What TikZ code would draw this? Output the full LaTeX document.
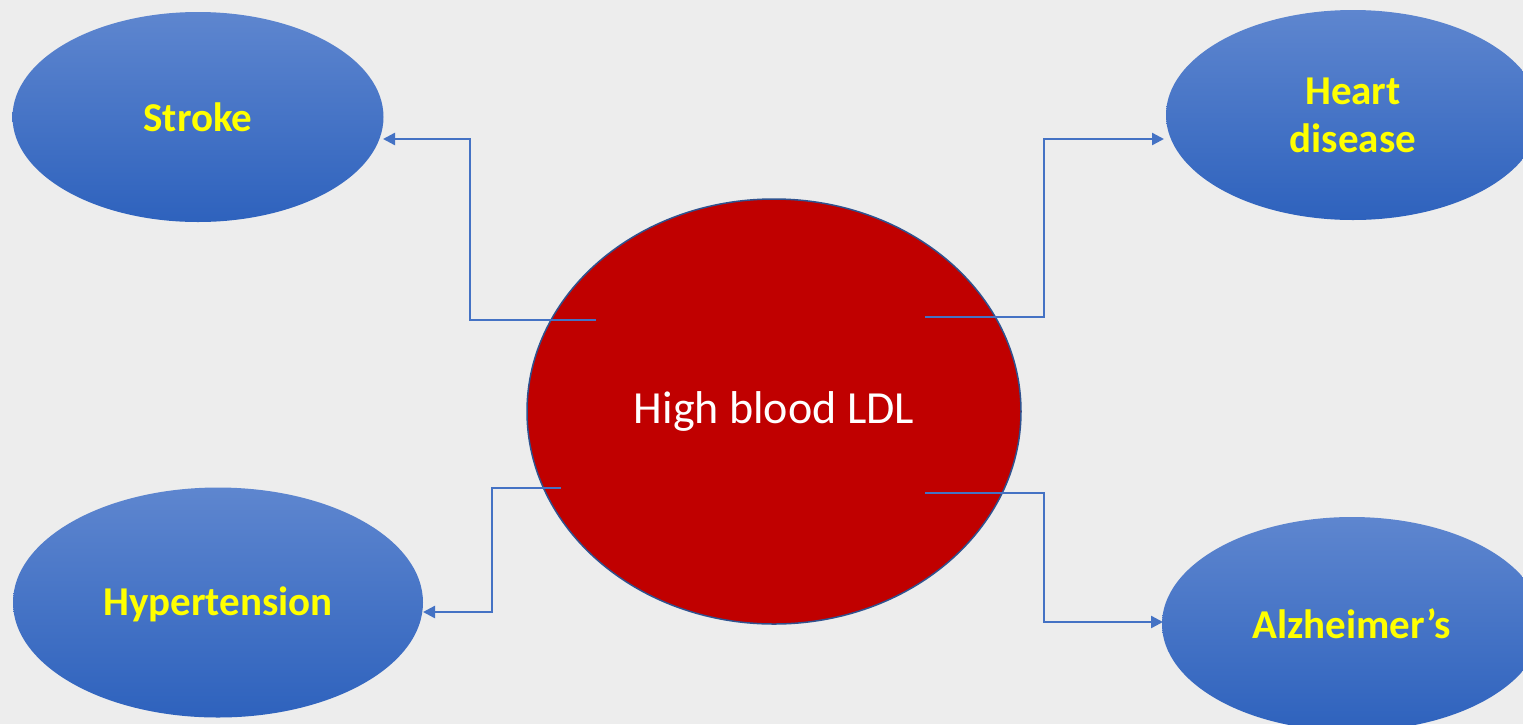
\documentclass[tikz,border=0pt]{standalone}
\usepackage{fontspec}
\setmainfont{Carlito}
\usepackage{tikz}
\usetikzlibrary{arrows.meta,calc,shapes.geometric,positioning}
\definecolor{slidebg}{HTML}{EDEDED}
\definecolor{riskTop}{HTML}{5E86CF}
\definecolor{riskBot}{HTML}{2E62BD}
\definecolor{ldlRed}{HTML}{C00000}
\definecolor{ldlEdge}{HTML}{2F528F}
\definecolor{linkBlue}{HTML}{4472C4}
\definecolor{labelYellow}{HTML}{FFFF00}
\tikzset{
	risk map/.style={
		x=1pt, y=-1pt,
		every node/.style={inner sep=0pt, outer sep=0pt, align=center},
		link/.style={draw=linkBlue, line width=2.4pt,
			-{Triangle[length=12pt,width=12pt]}}
		},
	risk/.style={ellipse, draw=none, top color=riskTop, bottom color=riskBot,
		text=labelYellow, font=\fontsize{41}{48}\selectfont\bfseries},
	risk size/.code 2 args={\pgfkeysalso{minimum width=#1pt, minimum height=#2pt}},
	source/.style={ellipse, fill=ldlRed, draw=ldlEdge, line width=1.5pt,
		text=white, font=\fontsize{46}{52}\selectfont}
}

\begin{document}
\begin{tikzpicture}[risk map]
	\path[use as bounding box, fill=slidebg] (0,0) rectangle (1523,724);
	\clip (0,0) rectangle (1523,724);
	% cause in the middle
	\node[source, risk size={494}{425}] (ldl) at (774,411.5) {High blood LDL};
	% consequences
	\node[risk, risk size={371}{210}] (stroke) at (198,117) {Stroke};
	\node[risk, risk size={374}{210}] (heart) at (1353,115) {Heart\\disease};
	\node[risk, risk size={410}{230}, text depth=2pt] (hyper) at (218,602.5) {Hypertension};
	\node[risk, risk size={380}{214}] (alz) at (1352,624) {Alzheimer’s};
	% wire ends inside the red ellipse and on the targets
	\coordinate (ldl_out1) at (596,320);
	\coordinate (ldl_out2) at (925,317);
	\coordinate (ldl_out3) at (561,488);
	\coordinate (ldl_out4) at (925,493);
	\coordinate (stroke_in) at (383,139);
	\coordinate (heart_in) at (1164,139);
	\coordinate (hyper_in) at (423,612);
	\coordinate (alz_in) at (1163,622);
	\coordinate (bend1) at (470,0);
	\coordinate (bend2) at (1044,0);
	\coordinate (bend3) at (492,0);
	\draw[link] (ldl_out1) -- (ldl_out1 -| bend1) |- (stroke_in);
	\draw[link] (ldl_out2) -- (ldl_out2 -| bend2) |- (heart_in);
	\draw[link] (ldl_out3) -- (ldl_out3 -| bend3) |- (hyper_in);
	\draw[link] (ldl_out4) -- (ldl_out4 -| bend2) |- (alz_in);
\end{tikzpicture}
\end{document}
